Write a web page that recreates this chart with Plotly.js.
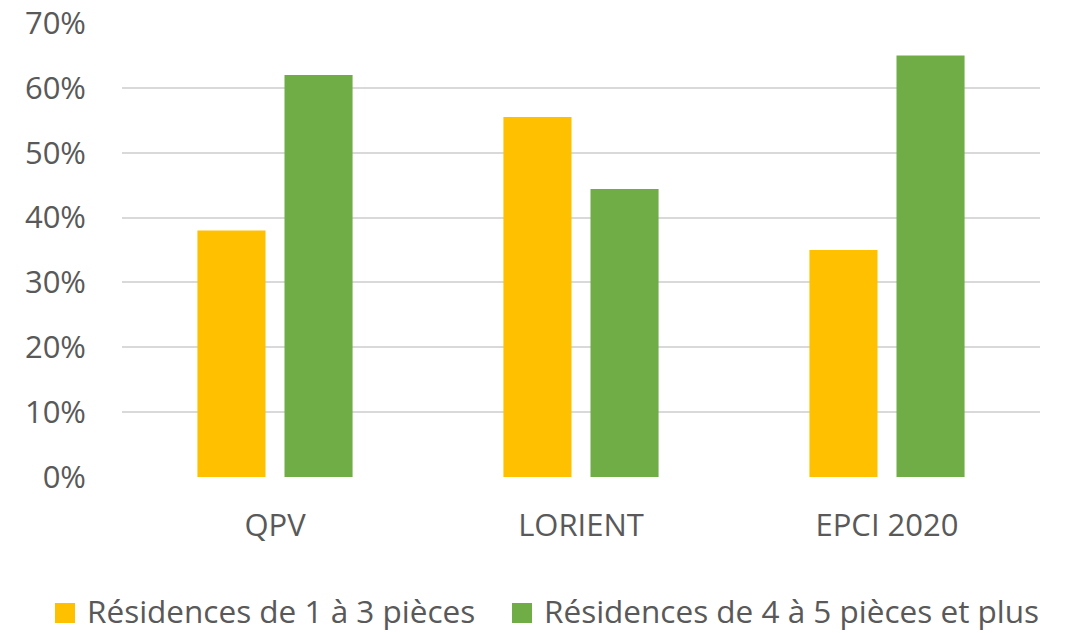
<!DOCTYPE html>
<html><head><meta charset="utf-8">
<script src="https://cdn.plot.ly/plotly-3.0.1.min.js"></script>
<style>html,body{margin:0;padding:0;background:#fff}#chart{width:1073px;height:633px}</style>
</head><body><div id="chart"></div>
<script>
const categories = ["QPV", "LORIENT", "EPCI 2020"];
const series1Name = "Résidences de 1 à 3 pièces";
const series1 = [0.38, 0.555, 0.35];
const series2Name = "Résidences de 4 à 5 pièces et plus";
const series2 = [0.62, 0.444, 0.65];
const yTicks = [0, 0.1, 0.2, 0.3, 0.4, 0.5, 0.6, 0.7];
const colors = ["#FFC000", "#70AD47"];

const font = {family: "Open Sans, Noto Sans, sans-serif", size: 31, color: "#595959"};
const legendFont = {family: "Open Sans, Noto Sans, sans-serif", size: 31.5, color: "#595959"};
const data = [
  {type: "bar", x: categories, y: series1, name: series1Name, marker: {color: colors[0]}, hoverinfo: "none", showlegend: false},
  {type: "bar", x: categories, y: series2, name: series2Name, marker: {color: colors[1]}, hoverinfo: "none", showlegend: false}
];

// manual legend (larger square swatches like the reference)
const W = 918, H = 454;
const px = v => (v - 122) / W;
const py = v => (477 - v) / H;
const legendItems = [
  {name: series1Name, color: colors[0], sx: 55, tx: 86},
  {name: series2Name, color: colors[1], sx: 512, tx: 543}
];
const shapes = legendItems.map(it => ({type: "rect", xref: "paper", yref: "paper",
  x0: px(it.sx), x1: px(it.sx + 20), y0: py(623), y1: py(603), fillcolor: it.color, line: {width: 0}}));
const annotations = legendItems.map(it => ({xref: "paper", yref: "paper", x: px(it.tx), y: py(610),
  xanchor: "left", yanchor: "middle", text: it.name, showarrow: false, font: legendFont, borderpad: 0}));

const layout = {
  width: 1073, height: 633,
  margin: {l: 122, r: 33, t: 23, b: 156},
  paper_bgcolor: "#fff", plot_bgcolor: "#fff",
  font: font,
  barmode: "group", bargap: 0.431, bargroupgap: 0.218,
  showlegend: false,
  shapes: shapes, annotations: annotations,
  xaxis: {showgrid: false, zeroline: false, showline: false, ticks: "", ticklabelstandoff: 27, tickfont: font},
  yaxis: {range: [0, 0.7], tickvals: yTicks, tickformat: ".0%", showgrid: true, gridcolor: "#D9D9D9", gridwidth: 2, zeroline: false, showline: false, ticks: "", ticklabelstandoff: 35, tickfont: font}
};
Plotly.newPlot("chart", data, layout, {displayModeBar: false, staticPlot: true});
</script></body></html>
